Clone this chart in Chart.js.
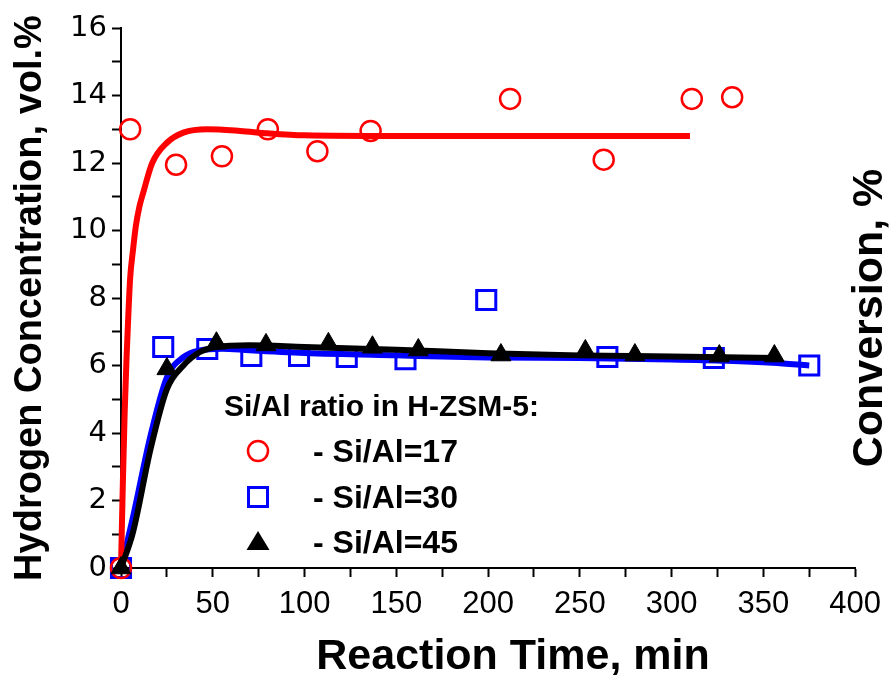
<!DOCTYPE html>
<html>
<head>
<meta charset="utf-8">
<script src="https://cdn.jsdelivr.net/npm/chart.js@4.4.0/dist/chart.umd.min.js"></script>
<style>
  body { margin: 0; background: #fff; }
  #wrap { width: 890px; height: 675px; }
</style>
</head>
<body>
<div id="wrap"><canvas id="chart" width="890" height="675"></canvas></div>
<script>
// measured points, reaction time (min) vs H2 concentration (vol.%)
var timeRed = [0, 5, 30, 55, 80, 107, 136, 212, 263, 311, 333];
var h2Red = [0, 13.0, 11.95, 12.2, 13.0, 12.35, 12.95, 13.9, 12.1, 13.9, 13.95];

var timeBlue = [0, 23, 47, 71, 97, 123, 155, 199, 265, 323, 375];
var h2Blue = [0, 6.55, 6.49, 6.28, 6.28, 6.25, 6.19, 7.94, 6.25, 6.22, 6.0];

var timeBlack = [0, 25, 52, 79, 113, 137, 162, 207, 253, 280, 326, 356];
var h2Black = [0, 5.9, 6.66, 6.61, 6.64, 6.54, 6.46, 6.31, 6.43, 6.31, 6.28, 6.28];

// fitted curves
var fitTimeRed = [0, 1, 2, 3, 4, 5, 6.5, 8, 10, 12, 17, 25, 34, 47, 65, 80, 100, 150, 310];
var fitRed = [0, 2.5, 4.6, 6.2, 7.5, 8.6, 9.4, 10.1, 10.7, 11.1, 12.0, 12.6, 12.9, 13.0, 12.95, 12.88, 12.82, 12.8, 12.8];

var fitTimeBlue = [0, 6.5, 16, 25, 34, 43, 55, 70, 100, 150, 200, 250, 300, 330, 355, 375];
var fitBlue = [0, 1.5, 3.9, 5.65, 6.25, 6.45, 6.5, 6.45, 6.37, 6.3, 6.24, 6.22, 6.18, 6.14, 6.08, 6.0];

var fitTimeBlack = [0, 6.5, 16, 25, 34, 43, 52, 70, 100, 150, 200, 250, 300, 357];
var fitBlack = [0, 1.05, 3.5, 5.3, 6.0, 6.4, 6.55, 6.6, 6.55, 6.47, 6.36, 6.3, 6.27, 6.22];

var legendTitle = 'Si/Al ratio in H-ZSM-5:';
var seriesNames = ['- Si/Al=17', '- Si/Al=30', '- Si/Al=45'];
var xTitle = 'Reaction Time, min';
var yTitle = 'Hydrogen Concentration, vol.%';
var y2Title = 'Conversion, %';

function pts(xs, ys) {
  return xs.map(function(x, i) { return {x: x, y: ys[i]}; });
}

var legendPlugin = {
  id: 'sialLegend',
  afterDraw: function(chart) {
    var ctx = chart.ctx;
    ctx.save();
    ctx.fillStyle = '#000';
    ctx.textAlign = 'left';
    ctx.textBaseline = 'alphabetic';
    ctx.font = 'bold 30px "Liberation Sans", Arial, sans-serif';
    ctx.fillText(legendTitle, 224, 416);

    var ys = [451, 497, 542];
    var mx = 258;
    // circle
    ctx.beginPath();
    ctx.arc(mx, ys[0], 10, 0, Math.PI * 2);
    ctx.strokeStyle = '#ff0000';
    ctx.lineWidth = 2.5;
    ctx.stroke();
    // square
    ctx.strokeStyle = '#0000ff';
    ctx.lineWidth = 3;
    ctx.strokeRect(mx - 9.5, ys[1] - 9.5, 19, 19);
    // triangle
    ctx.beginPath();
    ctx.moveTo(mx, ys[2] - 11);
    ctx.lineTo(mx + 11.5, ys[2] + 8);
    ctx.lineTo(mx - 11.5, ys[2] + 8);
    ctx.closePath();
    ctx.fillStyle = '#000';
    ctx.fill();

    ctx.font = 'bold 32px "Liberation Sans", Arial, sans-serif';
    for (var i = 0; i < seriesNames.length; i++) {
      ctx.fillText(seriesNames[i], 313, ys[i] + 11);
    }

    // x axis title sits a bit right of the plot centre in the original
    ctx.textAlign = 'center';
    ctx.font = 'bold 43px "Liberation Sans", Arial, sans-serif';
    ctx.fillText(xTitle, 513, 669);

    // right hand axis title
    ctx.translate(882, 318);
    ctx.rotate(-Math.PI / 2);
    ctx.fillText(y2Title, 0, 0);
    ctx.restore();
  }
};

var axisGrid = {
  display: true,
  drawOnChartArea: false,
  drawTicks: true,
  tickLength: 9,
  tickWidth: 2,
  tickColor: '#000'
};

new Chart(document.getElementById('chart'), {
  type: 'scatter',
  data: {
    datasets: [
      {
        label: seriesNames[2],
        data: pts(timeBlack, h2Black),
        pointStyle: 'triangle',
        pointRadius: 11.5,
        backgroundColor: '#000',
        borderColor: '#000',
        borderWidth: 1,
        clip: false
      },
      {
        label: 'fit 45',
        data: pts(fitTimeBlack, fitBlack),
        showLine: true,
        pointRadius: 0,
        borderColor: '#000',
        borderWidth: 6,
        cubicInterpolationMode: 'monotone',
        clip: false
      },
      {
        label: seriesNames[0],
        data: pts(timeRed, h2Red),
        pointStyle: 'circle',
        pointRadius: 10,
        backgroundColor: 'rgba(0,0,0,0)',
        borderColor: '#ff0000',
        borderWidth: 2.5,
        clip: false
      },
      {
        label: 'fit 17',
        data: pts(fitTimeRed, fitRed),
        showLine: true,
        pointRadius: 0,
        borderColor: '#ff0000',
        borderWidth: 6,
        cubicInterpolationMode: 'monotone',
        clip: false
      },
      {
        label: seriesNames[1],
        data: pts(timeBlue, h2Blue),
        pointStyle: 'rect',
        pointRadius: 13.5,
        backgroundColor: 'rgba(0,0,0,0)',
        borderColor: '#0000ff',
        borderWidth: 3,
        clip: false
      },
      {
        label: 'fit 30',
        data: pts(fitTimeBlue, fitBlue),
        showLine: true,
        pointRadius: 0,
        borderColor: '#0000ff',
        borderWidth: 6,
        cubicInterpolationMode: 'monotone',
        clip: false
      }
    ]
  },
  options: {
    responsive: false,
    animation: false,
    layout: { padding: { top: 28, right: 31, left: 0, bottom: 0 } },
    plugins: {
      legend: { display: false },
      tooltip: { enabled: false }
    },
    scales: {
      x: {
        type: 'linear',
        min: 0,
        max: 400,
        grid: axisGrid,
        border: { display: true, color: '#000', width: 2 },
        ticks: {
          stepSize: 25,
          autoSkip: false,
          maxRotation: 0,
          padding: 9,
          color: '#000',
          font: { family: '"Liberation Sans", Arial, sans-serif', size: 31 },
          callback: function(v) { return v % 50 === 0 ? v : ''; }
        },
        afterFit: function(scale) { scale.height = 107; }
      },
      y: {
        min: 0,
        max: 16,
        grid: axisGrid,
        border: { display: true, color: '#000', width: 2 },
        ticks: {
          stepSize: 1,
          autoSkip: false,
          padding: 5,
          color: '#000',
          font: { family: '"DejaVu Sans", sans-serif', size: 29 },
          callback: function(v) { return v % 2 === 0 ? v : ''; }
        },
        title: {
          display: true,
          text: yTitle,
          color: '#000',
          font: { family: '"Liberation Sans", Arial, sans-serif', size: 38, weight: 'bold', lineHeight: 1.2 },
          padding: { top: 8, bottom: 0 }
        },
        afterFit: function(scale) { scale.width = 121; }
      }
    }
  },
  plugins: [legendPlugin]
});
</script>
</body>
</html>
